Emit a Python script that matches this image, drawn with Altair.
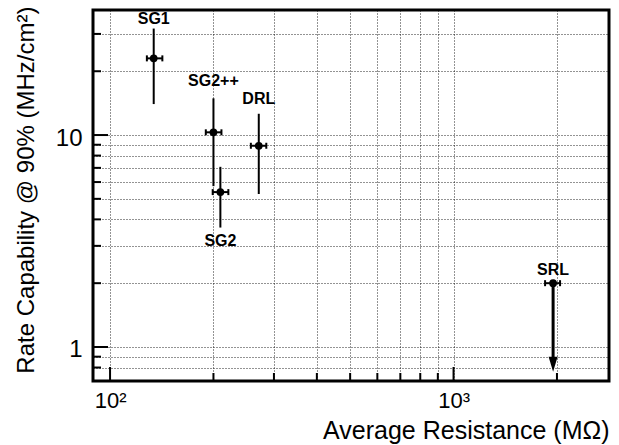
import altair as alt
import pandas as pd

# ---- data ----
names = ["SG1", "SG2++", "DRL", "SG2", "SRL"]
resistance = [134, 200, 271, 209.5, 1949]
res_lo = [128, 190, 257, 199, 1847]
res_hi = [142, 211, 285, 221, 2042]
rate = [23.0, 10.3, 8.9, 5.38, 2.0]
rate_lo = [14.0, 5.74, 5.27, 3.66, 2.0]
rate_hi = [31.8, 14.9, 12.6, 7.08, 2.0]
label_y = [33.4, 17.0, 14.0, 3.0, 2.19]

# SRL is an upper limit: arrow from its value down to the tip
limit_name = ["SRL"]
limit_x = [1949]
limit_from = [2.0]
limit_shaft_end = [0.87]
limit_tip = [0.765]

x_major = [100, 1000]
x_minor = [200, 300, 400, 500, 600, 700, 800, 900, 2000]
y_major = [1, 10]
y_minor = [0.8, 0.9, 2, 3, 4, 5, 6, 7, 8, 9, 20, 30]

x_domain = [89.2, 2835]
y_domain = [0.691, 38.9]

W, H = 516, 371
FONT = "Liberation Sans"

df = pd.DataFrame({
    "name": names, "res": resistance, "res_lo": res_lo, "res_hi": res_hi,
    "rate": rate, "rate_lo": rate_lo, "rate_hi": rate_hi, "label_y": label_y,
})
caps = pd.DataFrame({"res": res_lo + res_hi, "rate": rate + rate})
arrow = pd.DataFrame({"name": limit_name, "res": limit_x, "from": limit_from,
                      "shaft_end": limit_shaft_end, "tip": limit_tip})
xt_major = pd.DataFrame({"v": x_major})
xt_minor = pd.DataFrame({"v": x_minor})
yt_major = pd.DataFrame({"v": y_major})
yt_minor = pd.DataFrame({"v": y_minor})

xs = alt.Scale(type="log", domain=x_domain, nice=False)
ys = alt.Scale(type="log", domain=y_domain, nice=False)

x_axis = alt.Axis(
    values=sorted(x_major + x_minor),
    labelExpr="datum.value == 100 ? '10²' : (datum.value == 1000 ? '10³' : '')",
    grid=True, gridDash=[1, 2], gridColor="black", gridWidth=1, gridOpacity=0.85,
    ticks=False, domain=False,
    labelFont=FONT, labelFontSize=22, labelColor="black", labelPadding=9,
    labelFlush=False, labelOverlap=False,
    title="Average Resistance (MΩ)", titleFont=FONT, titleFontSize=25,
    titleFontWeight="normal", titleColor="black", titleAnchor="end",
    titleAlign="right", titleBaseline="alphabetic", titleX=W, titleY=57,
)
y_axis = alt.Axis(
    values=sorted(y_major + y_minor),
    labelExpr="datum.value == 1 ? '1' : (datum.value == 10 ? '10' : '')",
    grid=True, gridDash=[1, 2], gridColor="black", gridWidth=1, gridOpacity=0.85,
    ticks=False, domain=False,
    labelFont=FONT, labelFontSize=24, labelColor="black", labelPadding=11,
    labelOffset=3, labelFlush=False, labelOverlap=False,
    title="Rate Capability @ 90% (MHz/cm²)", titleFont=FONT, titleFontSize=24,
    titleFontWeight="normal", titleColor="black", titleAngle=270,
    titleAlign="right", titleBaseline="alphabetic", titleX=-60, titleY=-4,
)

def X(field):
    return alt.X(field, type="quantitative", scale=xs, axis=x_axis)

def Y(field):
    return alt.Y(field, type="quantitative", scale=ys, axis=y_axis)

base = alt.Chart(df)

vbars = base.mark_rule(color="black", strokeWidth=2).encode(
    x=X("res"), y=Y("rate_lo"), y2="rate_hi:Q",
)
hbars = base.mark_rule(color="black", strokeWidth=2).encode(
    x=X("res_lo"), x2="res_hi:Q", y=Y("rate"),
)
capmarks = alt.Chart(caps).mark_tick(
    orient="vertical", color="black", size=6, thickness=2, opacity=1
).encode(x=X("res"), y=Y("rate"))
points = base.mark_circle(color="black", size=60, opacity=1).encode(
    x=X("res"), y=Y("rate"),
)
shaft = alt.Chart(arrow).mark_rule(color="black", strokeWidth=3).encode(
    x=X("res"), y=Y("from"), y2="shaft_end:Q",
)
head = alt.Chart(arrow).mark_point(
    shape="M-0.6,-2L0.6,-2L0,0Z", size=225, filled=True, color="black",
    opacity=1, strokeWidth=0
).encode(x=X("res"), y=Y("tip"))
labels = base.mark_text(
    font=FONT, fontWeight="bold", fontSize=16, color="black",
    align="center", baseline="alphabetic"
).encode(x=X("res"), y=Y("label_y"), text="name:N")

def xticks(d, length):
    return alt.Chart(d).mark_rule(color="black", strokeWidth=2).encode(
        x=X("v"), y=alt.value(H), y2=alt.value(H - length),
    )

def yticks(d, length):
    return alt.Chart(d).mark_rule(color="black", strokeWidth=2).encode(
        y=Y("v"), x=alt.value(0), x2=alt.value(length),
    )

chart = alt.layer(
    vbars, hbars, capmarks, points, shaft, head, labels,
    xticks(xt_major, 14), xticks(xt_minor, 8),
    yticks(yt_major, 15), yticks(yt_minor, 8),
).properties(
    width=W, height=H,
    autosize=alt.AutoSizeParams(type="none"),
    padding={"left": 85, "top": 2, "right": 2, "bottom": 64},
    background="white",
).configure_view(
    stroke="black", strokeWidth=3, fill="white"
)

chart.save("out.html", embed_options={"renderer": "svg", "actions": False})
